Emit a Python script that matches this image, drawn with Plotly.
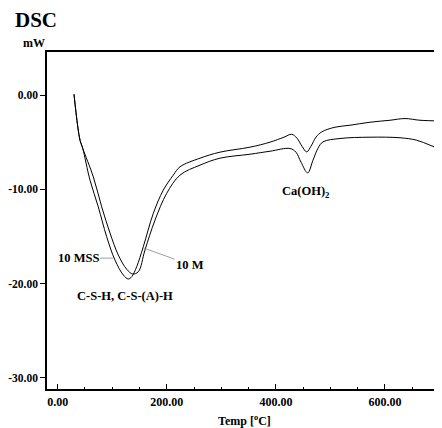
import plotly.graph_objects as go

# 10 MSS curve (temperature in deg C, heat flow in mW)
mss_temp = [29.9, 33.5, 37.2, 40.9, 45.8, 59.2, 74.4, 89.8, 105.0, 120.3, 129.4, 135.7,
            144.8, 156.9, 175.3, 193.6, 211.9, 224.2, 260.9, 297.5, 352.5, 389.2, 414.8,
            429.0, 438.7, 447.8, 456.5, 464.3, 473.5, 483.9, 508.3, 535.8, 572.5, 609.2,
            636.7, 664.2, 704.5]
mss_dsc = [0.11, -1.80, -3.50, -4.77, -5.62, -9.01, -11.85, -15.03, -17.50, -19.09, -19.51,
           -19.27, -18.21, -16.09, -12.54, -10.07, -8.48, -7.60, -6.68, -6.04, -5.51, -4.98,
           -4.45, -4.14, -4.56, -5.41, -6.01, -5.41, -4.45, -3.89, -3.39, -3.18, -2.86, -2.65,
           -2.47, -2.65, -2.73]

# 10 M curve
m_temp = [29.9, 33.5, 37.2, 40.9, 45.8, 65.3, 80.7, 95.9, 111.1, 126.5, 137.5, 147.8, 160.0,
          178.4, 199.8, 224.2, 260.9, 297.5, 352.5, 389.2, 425.8, 436.8, 446.0, 458.3, 468.0,
          477.2, 486.3, 517.5, 572.5, 627.5, 658.1, 682.5, 704.5]
m_dsc = [0.11, -1.80, -3.50, -4.77, -5.62, -8.66, -11.85, -14.63, -16.97, -18.48, -18.98,
         -18.74, -16.44, -13.26, -10.42, -8.48, -7.42, -6.68, -6.26, -5.94, -5.65, -6.04,
         -7.10, -8.24, -6.89, -5.62, -4.95, -4.59, -4.45, -4.51, -4.77, -5.30, -5.83]

x_ticks = [0, 200, 400, 600]
x_tick_labels = ["0.00", "200.00", "400.00", "600.00"]
y_ticks = [0, -10, -20, -30]
y_tick_labels = ["0.00", "-10.00", "-20.00", "-30.00"]

FONT = "Liberation Serif"
FS = 12.5

fig = go.Figure()
fig.add_trace(go.Scatter(x=mss_temp, y=mss_dsc, mode="lines", name="10 MSS",
                         line=dict(color="black", width=1), line_shape="spline"))
fig.add_trace(go.Scatter(x=m_temp, y=m_dsc, mode="lines", name="10 M",
                         line=dict(color="black", width=1), line_shape="spline"))

# the page body has an 8px margin, so the figure is sized/offset to compensate
fig.update_layout(
    width=434, height=420,
    margin=dict(l=39, r=0, t=44, b=39, autoexpand=False),
    paper_bgcolor="white", plot_bgcolor="white",
    showlegend=False,
    font=dict(family=FONT, color="black", size=FS),
)
fig.update_xaxes(
    automargin=False,
    range=[-19.6, 704.5], showgrid=False, zeroline=False,
    showline=True, linecolor="black", linewidth=1.5, mirror=True,
    tickmode="array", tickvals=x_ticks, ticktext=x_tick_labels,
    ticks="inside", ticklen=5, tickcolor="black", ticklabelstandoff=1,
    minor=dict(ticks="inside", ticklen=2, dtick=50, tickcolor="black"),
    tickfont=dict(family=FONT, size=12, weight="bold"),
    title=dict(text="Temp [<sup>o</sup>C]", font=dict(family=FONT, size=12, weight="bold"), standoff=8),
)
fig.update_yaxes(
    automargin=False,
    range=[-31.2, 4.6], showgrid=False, zeroline=False,
    showline=True, linecolor="black", linewidth=1.5,
    tickmode="array", tickvals=y_ticks, ticktext=y_tick_labels,
    ticks="outside", ticklen=5, tickcolor="black", ticklabelstandoff=0,
    tickfont=dict(family=FONT, size=11.5, weight="bold"),
)

fig.add_annotation(text="DSC", xref="paper", yref="paper", x=-0.085, y=1.095,
                   xanchor="left", yanchor="middle", showarrow=False,
                   font=dict(family=FONT, size=21, weight="bold"))
fig.add_annotation(text="mW", xref="paper", yref="paper", x=-0.065, y=1.027,
                   xanchor="left", yanchor="middle", showarrow=False,
                   font=dict(family=FONT, size=12, weight="bold"))
fig.add_annotation(text="Ca(OH)<sub>2</sub>", x=455, y=-10.3, showarrow=False,
                   font=dict(family=FONT, size=FS, weight="bold"))
fig.add_annotation(text="C-S-H, C-S-(A)-H", x=124, y=-21.3, showarrow=False,
                   font=dict(family=FONT, size=FS, weight="bold"))
fig.add_annotation(text="10 MSS", x=101.4, y=-17.3, ax=-35, ay=0,
                   showarrow=True, arrowhead=0, arrowwidth=0.7, arrowcolor="#777",
                   font=dict(family=FONT, size=FS, weight="bold"))
fig.add_annotation(text="10 M", x=156.6, y=-16.2, ax=47, ay=17,
                   showarrow=True, arrowhead=0, arrowwidth=0.7, arrowcolor="#777",
                   font=dict(family=FONT, size=FS, weight="bold"))

fig.write_html("out.html")
